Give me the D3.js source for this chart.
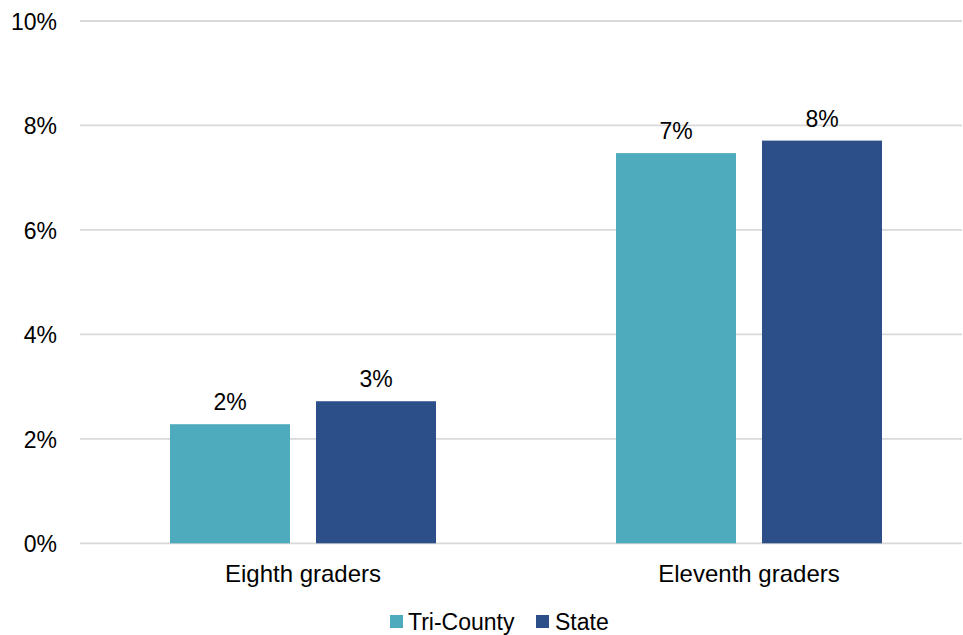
<!DOCTYPE html>
<html>
<head>
<meta charset="utf-8">
<script src="https://cdn.jsdelivr.net/npm/d3@7"></script>
<style>
  html, body { margin: 0; padding: 0; background: #fff; }
  svg { display: block; font-family: "Liberation Sans", Arial, sans-serif; }
</style>
</head>
<body>
<svg id="chart" width="963" height="635"></svg>
<script>
// Share of students, by grade
const categories = ["Eighth graders", "Eleventh graders"];
const seriesNames = ["Tri-County", "State"];
const triCounty = [0.0228, 0.0747];
const state = [0.0272, 0.0771];
const yTicks = [0, 0.02, 0.04, 0.06, 0.08, 0.10];
const colors = ["#4EAABD", "#2C4F8A"];

const seriesValues = [triCounty, state];
const rows = categories.map((c, i) => ({
  category: c,
  values: seriesNames.map((s, j) => ({ series: s, value: seriesValues[j][i], idx: j }))
}));

const svg = d3.select("#chart");
const plotLeft = 80, plotRight = 972, plotTop = 21, plotBottom = 543.3;
const numSize = 23, catSize = 24, legendSize = 23;

const y = d3.scaleLinear().domain([0, 0.10]).range([plotBottom, plotTop]);
const x0 = d3.scaleBand().domain(categories).range([plotLeft, plotRight]).padding(0);
const groupInset = 90;
const x1 = d3.scaleBand().domain(seriesNames)
  .range([groupInset, x0.bandwidth() - groupInset])
  .paddingInner(26 / 146).paddingOuter(0);

// gridlines
svg.append("g")
  .selectAll("line")
  .data(yTicks)
  .join("line")
  .attr("x1", plotLeft).attr("x2", 962)
  .attr("y1", d => y(d)).attr("y2", d => y(d))
  .attr("stroke", "#d9d9d9").attr("stroke-width", 1.8);

// y axis labels
const yAxis = d3.axisLeft(y).tickValues(yTicks).tickFormat(d3.format(".0%")).tickSize(0).tickPadding(0);
const ya = svg.append("g").attr("transform", `translate(57,0)`).call(yAxis);
ya.select(".domain").remove();
ya.selectAll("text").attr("font-size", numSize).attr("fill", "#000")
  .attr("font-family", "Liberation Sans, Arial, sans-serif")
  .attr("dy", "0.36em");

// bars
const groups = svg.append("g").selectAll("g")
  .data(rows).join("g")
  .attr("transform", d => `translate(${x0(d.category)},0)`);

groups.selectAll("rect")
  .data(d => d.values).join("rect")
  .attr("x", d => x1(d.series))
  .attr("width", x1.bandwidth())
  .attr("y", d => y(d.value))
  .attr("height", d => y(0) - y(d.value))
  .attr("fill", d => colors[d.idx]);

// value labels
groups.selectAll("text.val")
  .data(d => d.values).join("text")
  .attr("class", "val")
  .attr("x", d => x1(d.series) + x1.bandwidth() / 2)
  .attr("y", d => y(d.value) - 14)
  .attr("text-anchor", "middle")
  .attr("font-size", numSize)
  .attr("fill", "#000")
  .text(d => d3.format(".0%")(d.value));

// category axis
const xAxis = d3.axisBottom(x0).tickSize(0).tickPadding(0);
const xa = svg.append("g").attr("transform", `translate(0,${plotBottom})`).call(xAxis);
xa.select(".domain").remove();
xa.selectAll("text").attr("font-size", catSize).attr("fill", "#000")
  .attr("font-family", "Liberation Sans, Arial, sans-serif")
  .attr("dy", 0).attr("y", 38.5);

// legend
const legendItems = [
  { name: seriesNames[0], color: colors[0], sx: 390, tx: 408 },
  { name: seriesNames[1], color: colors[1], sx: 536, tx: 555 }
];
const lg = svg.append("g");
lg.selectAll("rect").data(legendItems).join("rect")
  .attr("x", d => d.sx).attr("y", 615).attr("width", 13).attr("height", 13)
  .attr("fill", d => d.color);
lg.selectAll("text").data(legendItems).join("text")
  .attr("x", d => d.tx).attr("y", 630)
  .attr("font-size", legendSize).attr("fill", "#000")
  .text(d => d.name);
</script>
</body>
</html>
